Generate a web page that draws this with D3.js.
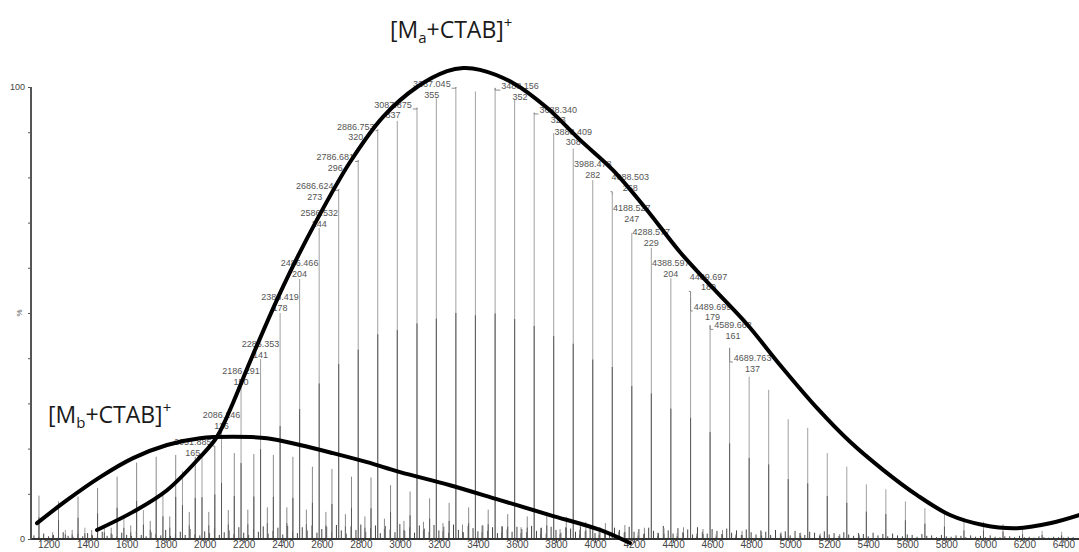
<!DOCTYPE html>
<html>
<head>
<meta charset="utf-8">
<script src="https://cdnjs.cloudflare.com/ajax/libs/d3/7.8.5/d3.min.js"></script>
<style>
  body { margin: 0; background: #fff; }
  svg { display: block; font-family: "Liberation Sans", Arial, sans-serif; }
</style>
</head>
<body>
<svg id="spec" width="1079" height="552"></svg>
<script>
// [Ma+CTAB]+ cluster, m/z and relative intensity (%)
var maMz = [1286.0, 1386.0, 1485.9, 1585.9, 1686.0, 1786.0, 1886.1, 1986.2, 2086.246, 2186.291,
  2286.353, 2386.419, 2486.466, 2586.532, 2686.624, 2786.681, 2886.753, 2986.8, 3087.875, 3186.9,
  3287.045, 3387.1, 3488.156, 3588.2, 3688.340, 3788.3, 3888.409, 3988.478, 4088.503, 4188.527,
  4288.577, 4388.597, 4489.697, 4589.662, 4689.763, 4789.8, 4889.9, 4990.0, 5090.0, 5190.1,
  5290.2, 5390.3, 5490.3, 5590.4, 5690.4, 5790.5, 5890.6, 5990.6, 6090.7, 6190.8,
  6290.8, 6390.9];
var maPct = [2.0, 2.5, 3.0, 4.9, 6.4, 10.0, 15.0, 18.5, 24.8, 33.6,
  39.8, 50.0, 57.5, 68.8, 77.4, 83.8, 90.6, 92.5, 95.4, 97.5,
  100.0, 99.0, 99.8, 97.3, 94.3, 89.8, 86.4, 79.4, 76.1, 67.7,
  64.4, 57.7, 53.6, 47.3, 42.3, 35.9, 33.0, 26.5, 24.6, 19.0,
  16.0, 12.1, 11.0, 8.3, 6.8, 5.5, 3.8, 3.8, 3.3, 2.1,
  1.8, 1.6];

// [Mb+CTAB]+ cluster
var mbMz = [1150.9, 1251.0, 1351.0, 1451.1, 1551.2, 1651.3, 1751.4, 1851.5, 1951.6, 2051.885,
  2151.7, 2251.8, 2351.9, 2452.0, 2552.0, 2652.1, 2752.2, 2852.3, 2952.3, 3052.4,
  3152.5, 3252.5, 3352.6, 3452.7, 3552.7, 3652.8, 3752.9, 3852.9, 3953.0, 4053.1,
  4153.1, 4253.2, 4353.3, 4453.3, 4553.4, 4653.5, 4753.5, 4853.6, 4953.7, 5053.7,
  5153.8, 5253.9, 5353.9];
var mbPct = [9.6, 8.3, 9.4, 11.3, 13.8, 16.9, 18.2, 18.6, 18.2, 19.7,
  19.0, 18.8, 18.6, 18.2, 16.0, 15.5, 13.8, 13.6, 11.9, 10.5,
  9.0, 8.0, 7.0, 6.5, 5.5, 5.0, 6.0, 4.9, 3.8, 3.5,
  3.1, 2.5, 2.4, 2.6, 2.2, 2.0, 1.8, 1.6, 1.5, 1.4,
  1.2, 1.1, 1.0];

// weaker in-between cluster
var mcMz = [1221, 1321, 1421, 1521, 1621, 1721, 1821, 1921, 2021, 2121,
  2221, 2321, 2421, 2521, 2621, 2721, 2821, 2921, 3021, 3121,
  3221, 3321, 3421, 3521, 3621, 3721, 3821, 3921, 4021, 4121,
  4221, 4321, 4421, 4521, 4621, 4721];
var mcPct = [1.5, 2.0, 2.0, 2.5, 3.0, 4.0, 5.0, 6.0, 6.0, 6.4,
  6.5, 7.0, 7.0, 6.5, 6.0, 5.5, 5.0, 4.5, 4.0, 3.8,
  3.5, 3.2, 3.0, 2.8, 2.6, 2.4, 2.2, 2.0, 1.8, 1.6,
  1.5, 1.4, 1.3, 1.2, 1.1, 1.0];

// baseline noise, one value every 25 Da from 1125
var noiseStart = 1125, noiseStep = 25;
var noisePct = [
  0.8,0.5,1.2,0.6,0.9,0.4,1.5,0.7,0.5,1.1,0.6,1.3,0.8,0.5,1.6,0.7,1.0,0.6,1.4,0.9,
  0.7,1.8,0.9,0.6,1.5,1.1,0.8,2.0,0.7,1.2,1.6,0.9,2.2,1.0,0.8,1.7,1.3,2.4,0.9,1.5,
  1.9,1.1,2.6,1.4,0.9,2.2,1.6,2.8,1.2,1.8,2.5,1.0,2.9,1.7,1.3,2.6,1.9,3.0,1.4,2.2,
  2.7,1.5,3.1,1.9,1.2,2.8,2.0,3.2,1.6,2.4,3.0,1.3,2.9,2.1,1.5,3.3,1.8,2.6,1.4,3.0,
  2.3,1.6,3.1,1.9,2.7,1.4,3.2,2.0,1.5,2.9,2.4,1.7,3.0,1.8,2.6,1.3,2.8,2.1,1.6,2.7,
  2.2,1.5,2.9,1.8,2.5,1.2,2.7,2.0,1.4,2.6,2.3,1.6,2.8,1.7,2.4,1.3,2.6,1.9,1.5,2.5,
  2.0,1.4,2.7,1.6,2.2,1.1,2.5,1.8,1.3,2.9,1.9,1.2,2.4,1.5,2.1,1.0,2.6,1.6,1.2,2.2,
  1.8,1.1,2.3,1.4,1.9,0.9,2.1,1.5,1.0,1.9,1.6,0.9,2.0,1.2,1.7,0.8,1.8,1.3,0.9,1.6,
  1.4,0.8,1.7,1.0,1.3,0.7,1.5,1.0,0.7,1.3,1.1,0.6,1.4,0.8,1.1,0.6,1.2,0.8,0.6,1.0,
  0.9,0.5,1.1,0.7,0.8,0.4,0.9,0.6,0.5,0.8,0.7,0.4,0.8,0.5,0.7,0.4,0.8,0.5,0.4,0.6,
  0.6,0.4,0.7,0.4,0.5,0.3,0.6,0.4,0.3,0.5,0.4,0.3,0.5,0.4];

// peak labels: anchor m/z, mass text, second line
var labelMz = [2051.885, 2086.246, 2186.291, 2286.353, 2386.419, 2486.466, 2586.532, 2686.624,
  2786.681, 2886.753, 3087.875, 3287.045, 3488.156, 3688.340, 3888.409, 3988.478, 4088.503,
  4188.527, 4288.577, 4388.597, 4489.697, 4489.697, 4589.662, 4689.763];
var labelText = ["2051.885", "2086.246", "2186.291", "2286.353", "2386.419", "2486.466", "2586.532",
  "2686.624", "2786.681", "2886.753", "3087.875", "3287.045", "3488.156", "3688.340", "3888.409",
  "3988.478", "4088.503", "4188.527", "4288.577", "4388.597", "4489.697", "4489.699", "4589.662",
  "4689.763"];
var labelSub = ["165", "116", "150", "141", "178", "204", "244", "273", "296", "320", "337", "355",
  "352", "323", "308", "282", "268", "247", "229", "204", "189", "179", "161", "137"];
// label placement relative to the peak top (px)
var labelShift = [[-22, -8], [0, -12], [0, -16], [0, -15], [0, -16], [0, -16], [0, -15], [-24, -3],
  [-23, -3], [-22, -3], [-24, -3], [-24, -3], [25, -2], [24, -3], [0, -17], [0, -16], [18, -18],
  [0, -25], [0, -16], [0, -15], [18, -20], [22, 10], [23, 0], [23, 10]];

// hand-drawn envelopes
var envAMz = [1448, 1633, 1807, 1976, 2063, 2145, 2232, 2401, 2575, 2745, 2914, 3088, 3242, 3324,
  3411, 3580, 3754, 3923, 4092, 4266, 4435, 4605, 4779, 4948, 5137, 5307, 5476, 5650, 5819, 5988,
  6162, 6331, 6480];
var envAPct = [2.0, 6.0, 10.8, 18.1, 22.6, 30.1, 39.2, 55.8, 70.6, 83.4, 93.4, 100, 103.5, 104.2,
  103.8, 100.9, 95.4, 88.3, 81.6, 72.8, 63.5, 55.5, 47.5, 38.5, 29.0, 21.5, 15.3, 9.7, 5.3, 3.1,
  2.4, 3.5, 5.3];
var envBMz = [1141, 1294, 1464, 1633, 1807, 1976, 2145, 2319, 2488, 2657, 2832, 3001, 3257, 3513,
  3769, 4026, 4179];
var envBPct = [3.5, 8.6, 13.7, 17.9, 20.8, 22.3, 22.6, 22.3, 20.8, 19.0, 17.0, 14.8, 11.9, 8.6,
  5.3, 2.0, -0.9];

var xTicks = d3.range(1200, 6401, 200);
var yTicks = d3.range(0, 101, 10);

var svg = d3.select("#spec");
var x = d3.scaleLinear().domain([1110, 6480]).range([31, 1079]);
var y = d3.scaleLinear().domain([0, 100]).range([539, 87]);

function sticks(g, mz, pct, light, dark) {
  var d = mz.map(function (m, i) { return [m, pct[i]]; });
  g.selectAll(null).data(d).enter().append("line")
    .attr("x1", function (p) { return x(p[0]); }).attr("x2", function (p) { return x(p[0]); })
    .attr("y1", y(0)).attr("y2", function (p) { return y(p[1]); })
    .attr("stroke", light).attr("stroke-width", 1);
  g.selectAll(null).data(d).enter().append("line")
    .attr("x1", function (p) { return x(p[0]); }).attr("x2", function (p) { return x(p[0]); })
    .attr("y1", y(0)).attr("y2", function (p) { return y(p[1] * 0.5); })
    .attr("stroke", dark).attr("stroke-width", 1);
}

var peaks = svg.append("g");
var noise = noisePct.map(function (v, i) { return [noiseStart + i * noiseStep, v]; });
peaks.selectAll(null).data(noise).enter().append("line")
  .attr("x1", function (p) { return x(p[0]); }).attr("x2", function (p) { return x(p[0]); })
  .attr("y1", y(0)).attr("y2", function (p) { return y(p[1]); })
  .attr("stroke", "#444").attr("stroke-width", 1);
sticks(peaks, mcMz, mcPct, "#8a8a8a", "#666");
sticks(peaks, mbMz, mbPct, "#8a8a8a", "#5a5a5a");
sticks(peaks, maMz, maPct, "#a0a0a0", "#5a5a5a");

// axes
var ax = svg.append("g").attr("transform", "translate(0," + y(0) + ")");
ax.call(d3.axisBottom(x).tickValues(d3.range(1120, 6480, 40)).tickSize(2).tickFormat(""));
ax.call(d3.axisBottom(x).tickValues(xTicks).tickSize(4).tickFormat(d3.format("d")));
ax.select(".domain").remove();
ax.selectAll("line").attr("stroke", "#555");
ax.selectAll("text").attr("font-size", 10).attr("fill", "#444").attr("dy", "0.35em").attr("y", 5);
svg.append("line").attr("x1", 31).attr("x2", 1079).attr("y1", y(0)).attr("y2", y(0))
  .attr("stroke", "#333").attr("stroke-width", 2);

var ay = svg.append("g").attr("transform", "translate(31,0)");
ay.call(d3.axisLeft(y).tickValues(yTicks).tickSize(3)
  .tickFormat(function (d) { return d === 0 || d === 100 ? d : ""; }));
ay.select(".domain").remove();
ay.selectAll("line").attr("stroke", "#555");
ay.selectAll("text").attr("font-size", 9).attr("fill", "#444");
svg.append("line").attr("x1", 31).attr("x2", 31).attr("y1", y(100)).attr("y2", y(0))
  .attr("stroke", "#555").attr("stroke-width", 2);
svg.append("text").attr("transform", "translate(22," + y(50) + ") rotate(-90)")
  .attr("text-anchor", "middle").attr("font-size", 8).attr("fill", "#555").text("%");

// peak labels
function peakTop(m) {
  var i = maMz.indexOf(m);
  if (i >= 0) return maPct[i];
  return mbPct[mbMz.indexOf(m)];
}
var lab = svg.append("g").attr("font-size", 9).attr("fill", "#555").attr("text-anchor", "middle");
labelMz.forEach(function (m, i) {
  var px = x(m), top = y(peakTop(m));
  var cx = px + labelShift[i][0], b1 = top + labelShift[i][1] + 3.2, b2 = b1 + 10.5;
  var t = lab.append("text").attr("x", cx).attr("y", b1).text(labelText[i]);
  lab.append("text").attr("x", cx).attr("y", b2).text(labelSub[i]);
  if (labelShift[i][0] !== 0) {
    var half = t.node().getComputedTextLength() / 2;
    var edge = labelShift[i][0] < 0 ? cx + half + 1 : cx - half - 1;
    var ly = labelShift[i][1] >= -8 ? b1 + 1 : b2 + 1;
    lab.append("path")
      .attr("d", "M" + px + "," + top + "L" + px + "," + ly + "L" + edge + "," + ly)
      .attr("fill", "none").attr("stroke", "#888").attr("stroke-width", 1);
  }
});

// envelopes
var env = d3.line().x(function (p) { return x(p[0]); }).y(function (p) { return y(p[1]); })
  .curve(d3.curveCatmullRom.alpha(0.5));
svg.append("path").datum(envAMz.map(function (m, i) { return [m, envAPct[i]]; }))
  .attr("d", env).attr("fill", "none").attr("stroke", "#000").attr("stroke-width", 4)
  .attr("stroke-linecap", "round");
svg.append("path").datum(envBMz.map(function (m, i) { return [m, envBPct[i]]; }))
  .attr("d", env).attr("fill", "none").attr("stroke", "#000").attr("stroke-width", 4)
  .attr("stroke-linecap", "round");

// species tags
function tag(tx, ty, sub) {
  var t = svg.append("text").attr("x", tx).attr("y", ty).attr("font-size", 23)
    .attr("font-family", "'Open Sans', sans-serif").attr("fill", "#1a1a1a");
  t.append("tspan").text("[M");
  t.append("tspan").attr("dy", 5).attr("font-size", 15).text(sub);
  t.append("tspan").attr("dy", -5).text("+CTAB]");
  t.append("tspan").attr("dy", -10).attr("font-size", 15).text("+");
}
tag(390, 38, "a");
tag(48, 423, "b");
</script>
</body>
</html>
